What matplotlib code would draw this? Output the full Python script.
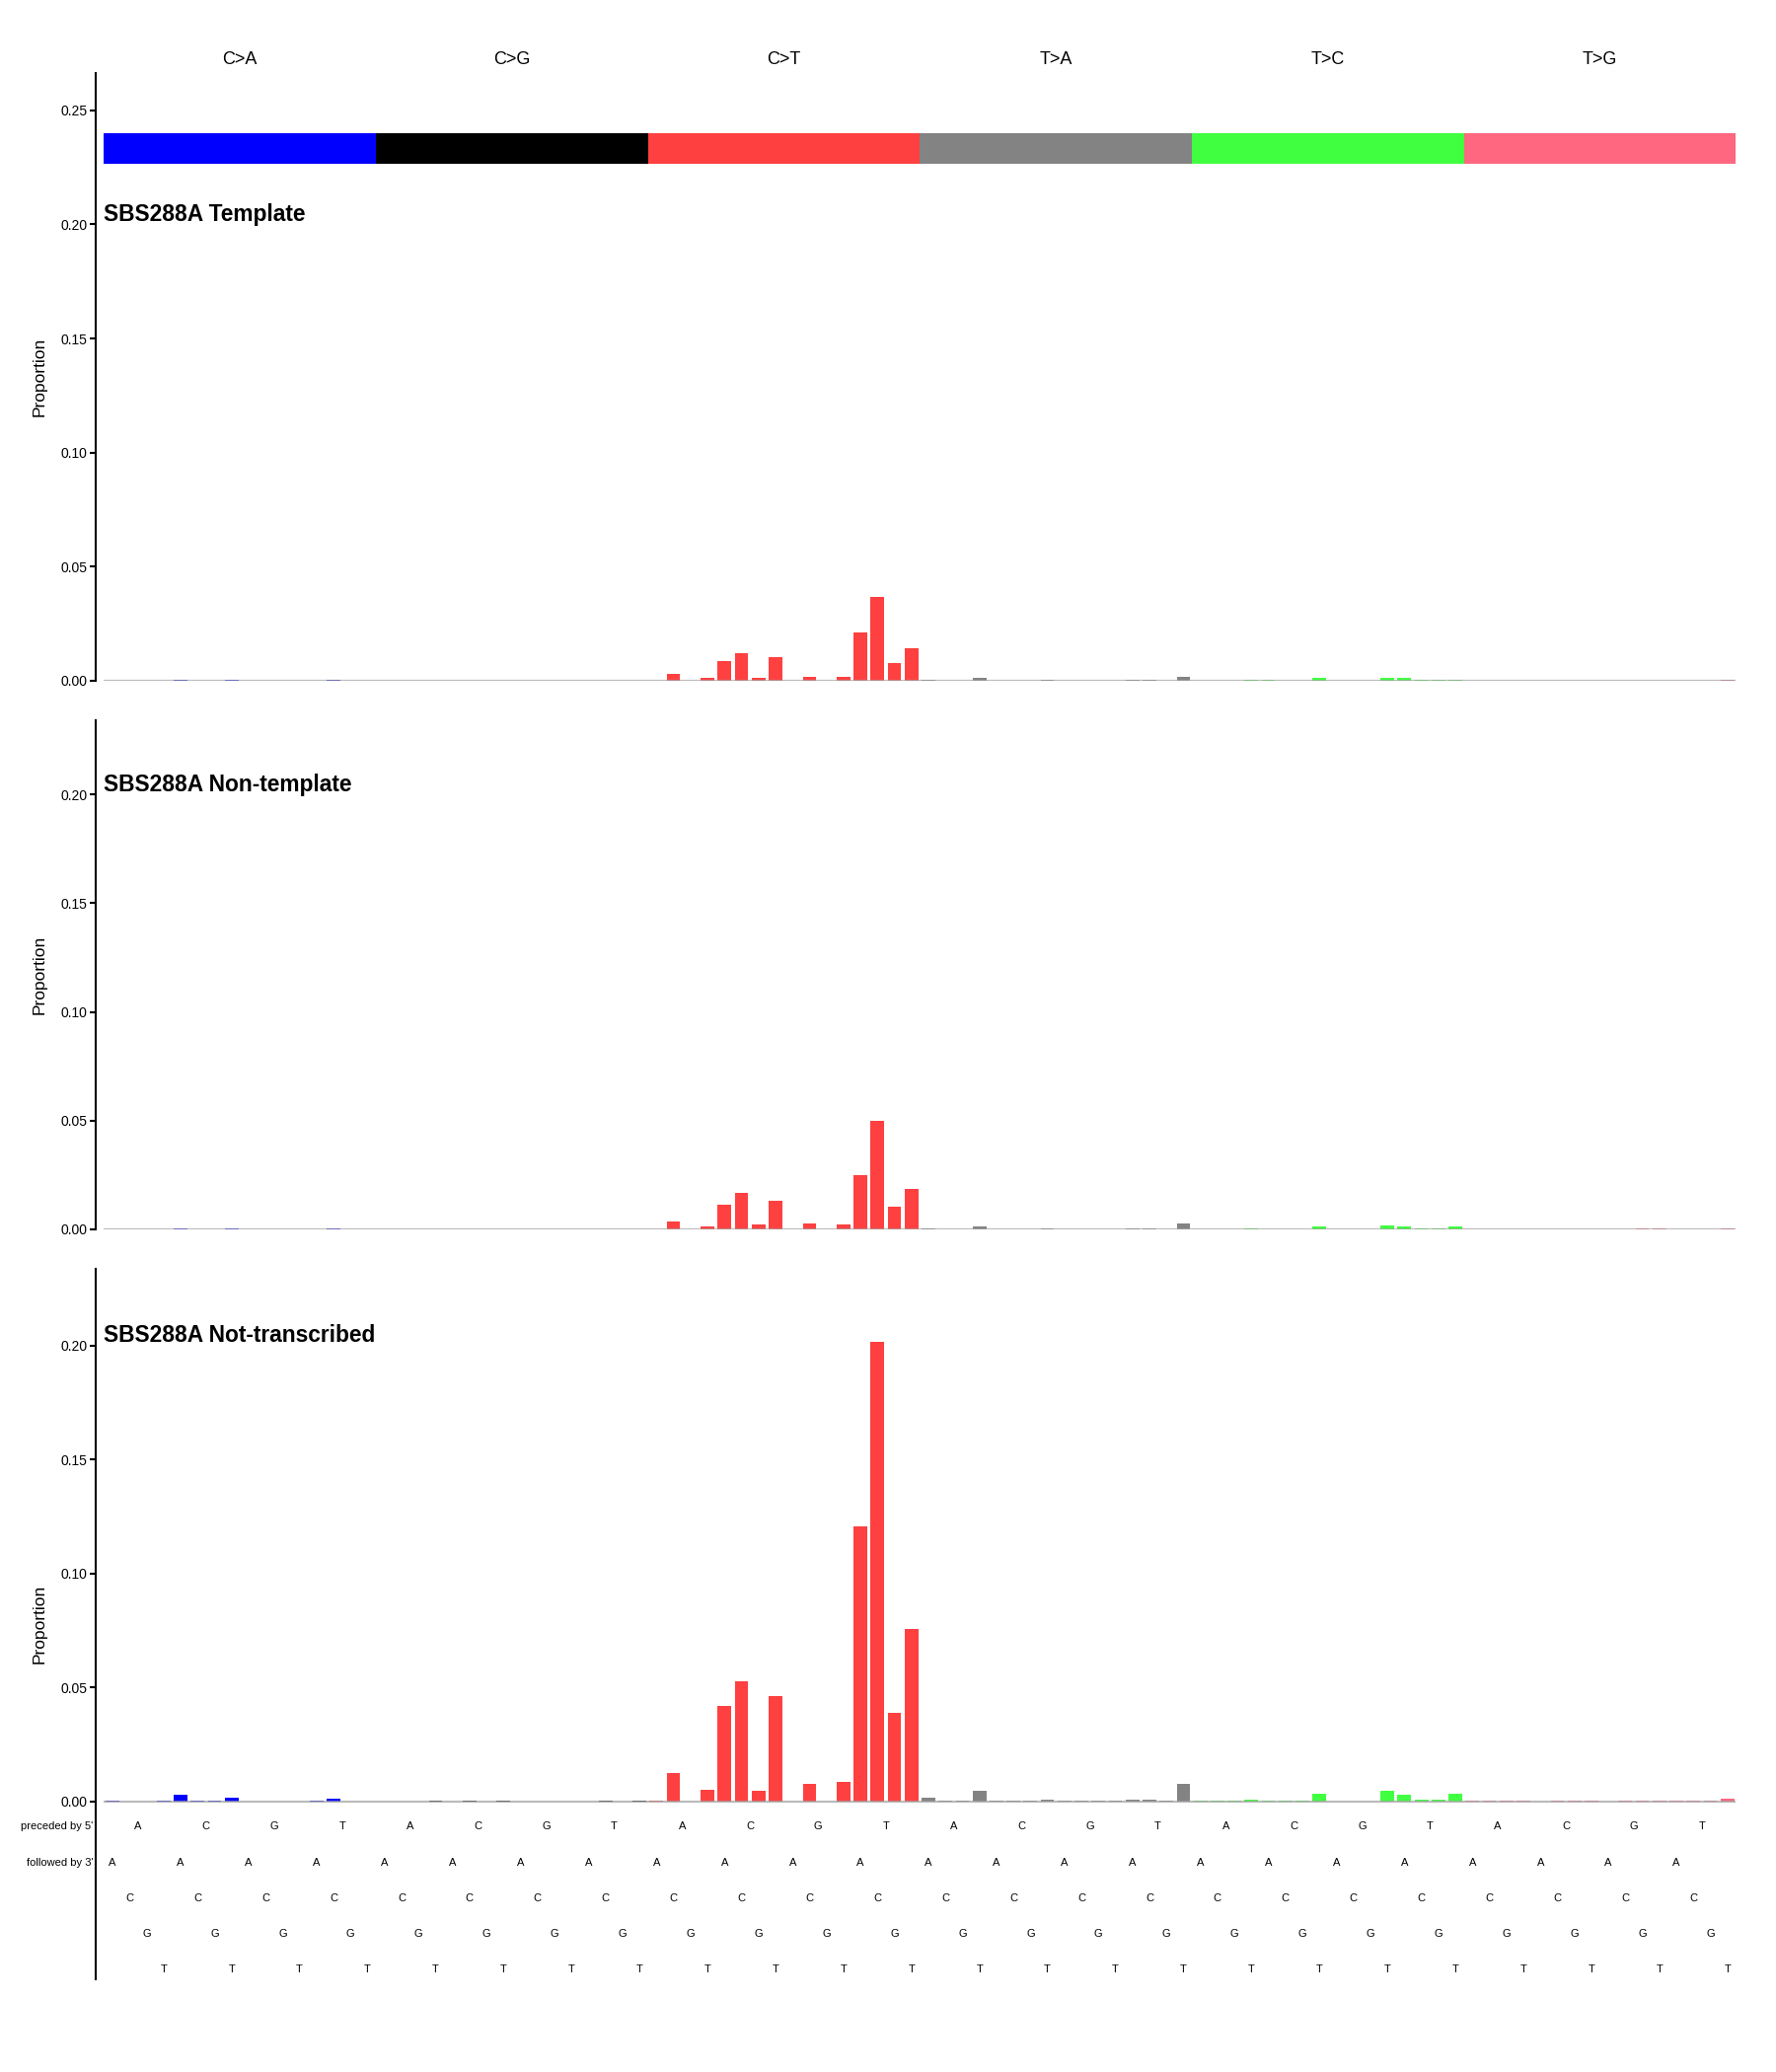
import matplotlib
matplotlib.use("Agg")
import matplotlib.pyplot as plt
import matplotlib.transforms as mtransforms
import numpy as np

plt.rcParams['font.family'] = ['Liberation Sans', 'DejaVu Sans']

# mutation classes and their colours
mut_types = ["C>A", "C>G", "C>T", "T>A", "T>C", "T>G"]
mut_colors = ["#0000FF", "#000000", "#FF4040", "#838383", "#40FF40", "#FF667F"]
bases = ["A", "C", "G", "T"]

panel_titles = ["SBS288A Template", "SBS288A Non-template", "SBS288A Not-transcribed"]

# 96 channels per panel: 6 rows (mutation) x 16 (5' base x 3' base)
template = [
    0, 0, 0, 0, 0.0003, 0, 0, 0.0003, 0, 0, 0, 0, 0, 0.0003, 0, 0,
    0, 0, 0, 0, 0, 0, 0, 0, 0, 0, 0, 0, 0, 0, 0, 0,
    0, 0.0029, 0, 0.0011, 0.0084, 0.0119, 0.0011, 0.0101, 0, 0.0016, 0, 0.0016, 0.0213, 0.0367, 0.0076, 0.0140,
    0.0003, 0, 0, 0.0011, 0, 0, 0, 0.0004, 0, 0, 0, 0, 0.0004, 0.0004, 0, 0.0018,
    0, 0, 0, 0.0002, 0.0002, 0, 0, 0.0013, 0, 0, 0, 0.0011, 0.0011, 0.0002, 0.0002, 0.0002,
    0, 0, 0, 0, 0, 0, 0, 0, 0, 0, 0, 0, 0, 0, 0, 0.0004,
]
non_template = [
    0, 0, 0, 0, 0.0003, 0, 0, 0.0004, 0, 0, 0, 0, 0, 0.0003, 0, 0,
    0, 0, 0, 0, 0, 0, 0, 0, 0, 0, 0, 0, 0, 0, 0, 0,
    0, 0.0034, 0, 0.0012, 0.0111, 0.0169, 0.0021, 0.0133, 0, 0.0025, 0, 0.0021, 0.0250, 0.0497, 0.0106, 0.0187,
    0.0003, 0, 0, 0.0012, 0, 0, 0, 0.0005, 0, 0, 0, 0, 0.0005, 0.0005, 0, 0.0026,
    0, 0, 0, 0.0004, 0, 0, 0, 0.0012, 0, 0, 0, 0.0019, 0.0012, 0.0003, 0.0003, 0.0012,
    0, 0, 0, 0, 0, 0, 0, 0, 0, 0, 0.0004, 0.0004, 0, 0, 0, 0.0004,
]
not_transcribed = [
    0.0002, 0, 0, 0.0002, 0.0030, 0.0002, 0.0002, 0.0016, 0, 0, 0, 0, 0.0002, 0.0011, 0, 0,
    0, 0, 0, 0.0003, 0, 0.0003, 0, 0.0003, 0, 0, 0, 0, 0, 0.0003, 0, 0.0003,
    0.0002, 0.0126, 0, 0.0053, 0.0421, 0.0529, 0.0049, 0.0464, 0, 0.0079, 0, 0.0087, 0.1205, 0.2017, 0.0391, 0.0756,
    0.0019, 0.0002, 0.0002, 0.0049, 0.0002, 0.0002, 0.0002, 0.0010, 0.0002, 0.0002, 0.0002, 0.0006, 0.0010, 0.0010, 0.0002, 0.0076,
    0.0002, 0.0002, 0.0002, 0.0010, 0.0006, 0.0002, 0.0002, 0.0036, 0, 0, 0, 0.0049, 0.0031, 0.0010, 0.0010, 0.0036,
    0.0002, 0.0002, 0.0006, 0.0002, 0, 0.0002, 0.0002, 0.0002, 0, 0.0002, 0.0006, 0.0006, 0.0002, 0.0006, 0.0006, 0.0014,
]
panels = [template, non_template, not_transcribed]

ylims = [(0, 0.2665), (0, 0.234), (-0.0777, 0.2336)]
yticks = [np.arange(0, 0.26, 0.05), np.arange(0, 0.21, 0.05), np.arange(0, 0.21, 0.05)]

# axes boxes [left, bottom, width, height]
boxes = [
    [0.0586, 0.6715, 0.9188, 0.2934],
    [0.0586, 0.4067, 0.9188, 0.2456],
    [0.0586, 0.0450, 0.9188, 0.3426],
]

fig = plt.figure(figsize=(18, 21), dpi=100)

x = np.arange(1, 97)
bar_colors = [c for c in mut_colors for _ in range(16)]

for k in range(3):
    ax = fig.add_axes(boxes[k])
    ax.bar(x, panels[k], width=0.8, color=bar_colors, zorder=2)
    ax.axhline(0, color="#A0A0A0", lw=1.6, alpha=0.7, zorder=3)
    ax.set_xlim(0.5, 96.5)
    ax.set_ylim(*ylims[k])
    ax.set_yticks(yticks[k])
    ax.set_yticklabels(["%.2f" % v for v in yticks[k]], fontsize=12)
    ax.set_xticks([])
    for s in ["top", "right", "bottom"]:
        ax.spines[s].set_visible(False)
    ax.spines["left"].set_position(("outward", 6))
    ax.spines["left"].set_linewidth(1.5)
    ax.tick_params(axis="y", length=4, width=1.5, pad=2)
    ax.set_ylabel("Proportion", fontsize=12.5, labelpad=10)
    ax.text(0.5, 0.2045, panel_titles[k], fontsize=16.4, fontweight="bold",
            ha="left", va="center")

    if k == 0:
        # coloured strip with mutation class names
        group_x = [16 * g + 8.5 for g in range(6)]
        ax.bar(group_x, 0.0133, width=16, bottom=0.2266, color=mut_colors, zorder=2)
        trans = mtransforms.blended_transform_factory(ax.transData, ax.transAxes)
        for g in range(6):
            ax.text(group_x[g], 1.022, mut_types[g], transform=trans,
                    ha="center", va="center", fontsize=13)

    if k == 2:
        # trinucleotide context labels
        row_y = [-0.0267, -0.0423, -0.0580, -0.0736]
        for g in range(24):
            ax.text(4 * g + 2.5, -0.011, bases[g % 4], ha="center", va="center", fontsize=8)
        for i in range(96):
            b = i % 4
            ax.text(i + 1, row_y[b], bases[b], ha="center", va="center", fontsize=8)
        ax.text(-0.15, -0.011, "preceded by 5'", ha="right", va="center", fontsize=8, clip_on=False)
        ax.text(-0.15, -0.0267, "followed by 3'", ha="right", va="center", fontsize=8, clip_on=False)

fig.savefig("out.png", dpi=100)
